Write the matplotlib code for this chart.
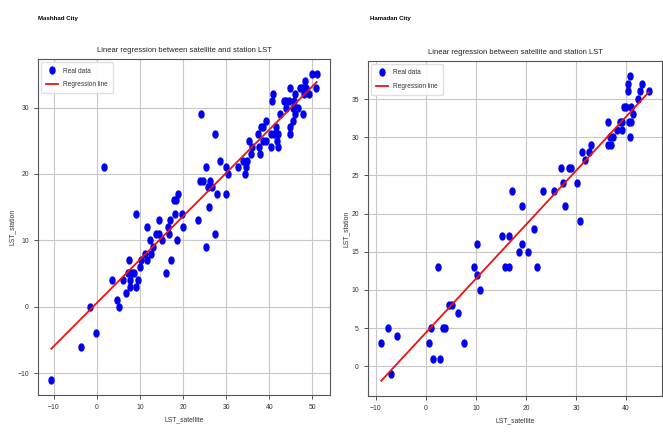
import numpy as np
import matplotlib
matplotlib.use('Agg')
import matplotlib.pyplot as plt
from matplotlib.path import Path

# Mashhad: satellite LST vs station LST
mashhad_sat = [-10.6, -3.7, -1.6, -0.3, 3.6, 4.6, 5.1, 6.0, 6.8, 7.4, 7.1, 7.7, 8.2, 8.7,
               7.7, 7.7, 9.0, 9.6, 9.9, 10.2, 11.1, 11.6, 11.7, 12.2, 12.5, 13.0, 13.7, 14.4,
               14.5, 15.1, 16.1, 16.5, 16.7, 17.0, 17.1, 18.5, 20.0, 25.3, 27.3, 9.0, 18.1,
               19.8, 23.5, 17.8, 18.4, 18.8, 26.1, 1.6,
               24.1, 25.2, 24.0, 24.6, 26.3, 25.8, 26.6, 27.9, 29.9, 27.3, 28.5, 29.9, 30.3,
               32.7, 33.8, 34.4, 34.6, 34.9, 35.2, 35.8, 36.1, 37.4, 37.7, 37.8, 38.0, 38.6,
               38.6, 39.2, 39.2, 40.5, 40.5, 40.6, 40.9, 41.1, 41.5, 41.7, 42.0, 42.0, 42.5,
               43.4, 43.9, 43.9, 44.8, 44.6, 44.8, 44.9, 45.4, 45.7, 45.6, 46.0, 46.0, 46.3,
               46.6, 47.1, 47.6, 47.9, 48.0, 48.3, 48.6, 49.1, 49.9, 51.0, 50.8]
mashhad_sta = [-11, -6, 0, -4, 4, 1, 0, 4, 2, 7, 5, 5, 5, 5,
               4, 3, 3, 4, 6, 7, 8, 12, 7, 10, 8, 9, 11, 11,
               13, 10, 5, 12, 11, 13, 7, 10, 12, 9, 11, 14, 14,
               14, 13, 16, 16, 17, 15, 21,
               29, 21, 19, 19, 19, 18, 18, 17, 17, 26, 22, 21, 20,
               21, 22, 20, 21, 22, 25, 23, 24, 26, 24, 23, 27, 27,
               25, 25, 28, 24, 26, 31, 32, 26, 27, 25, 26, 24, 29,
               31, 31, 30, 33, 31, 27, 26, 30, 31, 28, 32, 29, 30,
               30, 33, 33, 29, 32, 34, 33, 32, 35, 35, 33]

# Hamadan: satellite LST vs station LST
hamadan_sat = [-8.9, -7.6, -7.0, -5.8, 0.6, 1.0, 1.4, 2.5, 2.9, 3.4, 3.9, 4.6, 5.2, 6.4,
               7.6, 9.7, 10.3, 10.3, 10.9, 15.2, 15.8, 16.6, 16.6, 18.7, 19.3, 19.3, 20.4,
               21.6, 22.2, 27.9, 30.8,
               17.3, 23.4, 25.6, 27.0, 27.4, 28.6, 29.0, 30.2, 31.2, 31.8, 32.5, 32.9, 36.3,
               36.3, 36.9, 36.7, 37.4, 38.2, 38.7, 39.2, 39.2, 39.5, 39.9, 40.3, 40.3, 40.5,
               40.9, 40.8, 40.8, 40.9, 41.4, 42.3, 42.8, 43.2, 44.5]
hamadan_sta = [3, 5, -1, 4, 3, 5, 1, 13, 1, 5, 5, 8, 8, 7,
               3, 13, 16, 12, 10, 17, 13, 13, 17, 15, 21, 16, 15,
               18, 13, 21, 19,
               23, 23, 23, 26, 24, 26, 26, 24, 28, 27, 28, 29, 32,
               29, 29, 30, 30, 31, 32, 32, 31, 34, 34, 37, 36, 32,
               32, 38, 30, 34, 33, 35, 36, 37, 36]

cities = ['Mashhad City', 'Hamadan City']

plt.rcParams['font.family'] = ['Liberation Sans Narrow', 'Liberation Sans', 'DejaVu Sans']

# dots in the picture are a bit taller than wide
t = np.linspace(0, 2 * np.pi, 40)
dot = Path(np.column_stack([0.72 * np.cos(t), np.sin(t)]))

fig = plt.figure(figsize=(6.63, 4.34), dpi=100)
ax1 = fig.add_axes([0.0573, 0.0899, 0.4404, 0.774])
ax2 = fig.add_axes([0.555, 0.0876, 0.4434, 0.772])

for ax, xs, ys, city, xl in [(ax1, mashhad_sat, mashhad_sta, cities[0], 0.057),
                             (ax2, hamadan_sat, hamadan_sta, cities[1], 0.558)]:
    xs = np.array(xs)
    ys = np.array(ys)
    slope, icpt = np.polyfit(xs, ys, 1)
    ax.plot(xs, ys, linestyle='none', marker=dot, markersize=5, color='#0000ee', label='Real data')
    xx = np.array([xs.min(), xs.max()])
    ax.plot(xx, slope * xx + icpt, color='#ee1111', linewidth=1.3, label='Regression line')
    ax.grid(True, color='#c8c8c8', linewidth=0.8)
    ax.set_axisbelow(True)
    ax.set_title('Linear regression between satellite and station LST', fontsize=5.5, color='#222222', pad=5)
    ax.set_xlabel('LST_satellite', fontsize=4.9, color='#333333', labelpad=4)
    ax.set_ylabel('LST_station', fontsize=4.9, color='#333333', labelpad=1)
    ax.tick_params(labelsize=4.9, colors='#333333', length=3, width=0.6)
    for s in ax.spines.values():
        s.set_color('#555555')
        s.set_linewidth(0.8)
    ax.legend(loc='upper left', fontsize=4.7, handlelength=1.7, borderpad=0.8,
              labelspacing=1.0, framealpha=0.9, edgecolor='#dddddd', labelcolor='#333333')
    fig.text(xl, 0.958, city, fontsize=4.4, fontweight='bold', va='center')

ax1.set_xticks(np.arange(-10, 51, 10))
ax1.set_yticks(np.arange(-10, 31, 10))
ax2.set_xticks(np.arange(-10, 41, 10))
ax2.set_yticks(np.arange(0, 36, 5))

fig.savefig('out.png', dpi=100, facecolor='white')
